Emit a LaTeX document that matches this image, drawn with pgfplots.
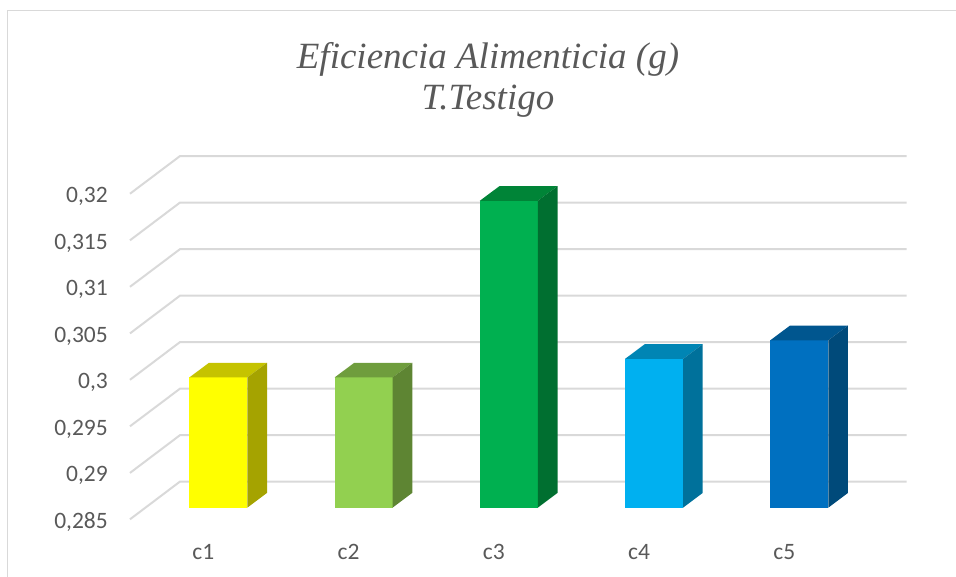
\documentclass[border=0pt]{standalone}
\usepackage{pgfplots}
\pgfplotsset{compat=1.18}
\usepackage{fontspec}
\setmainfont{Carlito}
\newfontfamily\titlefont{Liberation Serif}
\definecolor{gridc}{HTML}{D9D9D9}
\definecolor{labelc}{HTML}{595959}

% One box: x position, value, front, top and side colours.
\newcommand{\barbox}[5]{%
  \pgfmathsetmacro\xl{#1-0.1997}%
  \pgfmathsetmacro\xr{#1+0.1997}%
  \pgfmathsetmacro\xrb{#1+0.1997+0.1356}%
  \pgfmathsetmacro\xlb{#1-0.1997+0.1356}%
  \pgfmathsetmacro\vb{#2+0.00158}%
  \pgfmathsetmacro\fb{0.285+0.00158}%
  \edef\drawbox{%
    \noexpand\addplot[draw=none,fill=#3] coordinates {(\xl,0.285) (\xl,#2) (\xr,#2) (\xr,0.285)} --cycle;
    \noexpand\addplot[draw=none,fill=#4] coordinates {(\xl,#2) (\xlb,\vb) (\xrb,\vb) (\xr,#2)} --cycle;
    \noexpand\addplot[draw=none,fill=#5] coordinates {(\xr,0.285) (\xr,#2) (\xrb,\vb) (\xrb,\fb)} --cycle;
  }\drawbox}

% One gridline: the slanted piece on the floor side, then the back wall.
\newcommand{\gridline}[1]{%
  \pgfmathsetmacro\vf{#1-0.00125}%
  \pgfmathsetmacro\vk{#1+0.0028}%
  \edef\drawgrid{%
    \noexpand\addplot[draw=gridc,line width=2pt] coordinates {(-0.6081,\vf) (-0.2637,\vk) (4.739,\vk)};
  }\drawgrid}

\begin{document}
\begin{tikzpicture}[x=1pt,y=1pt]
\path[use as bounding box] (0,0) rectangle (956,577);
\draw[gridc,line width=1.5pt] (7.5,0) -- (7.5,566.5) -- (956,566.5);
\begin{axis}[
  at={(113pt,42pt)},anchor=south west,
  scale only axis,width=843pt,height=535pt,
  xmin=-0.7250,xmax=5.0790,
  ymin=0.282065,ymax=0.33959,
  clip=false,
  axis line style={draw=none},
  major tick length=0pt,
  xtick={-0.103,0.897,1.897,2.897,3.897},
  xticklabels={c1,c2,c3,c4,c5},
  ytick={0.28375,0.28875,0.29375,0.29875,0.30375,0.30875,0.31375,0.31875},
  yticklabels={{0,285},{0,29},{0,295},{0,3},{0,305},{0,31},{0,315},{0,32}},
  tick label style={font=\fontsize{23.5}{28}\selectfont,text=labelc},
  yticklabel style={inner sep=0pt,xshift=-5pt,yshift=-3pt},
  xticklabel style={inner sep=0pt,yshift=-9pt},
  title={Eficiencia Alimenticia (g)\\T.Testigo},
  title style={at={(axis description cs:0.4448,0.8385)},anchor=center,align=center,
    font=\titlefont\itshape\fontsize{37}{41}\selectfont,text=labelc},
]
\gridline{0.285}
\gridline{0.29}
\gridline{0.295}
\gridline{0.30}
\gridline{0.305}
\gridline{0.31}
\gridline{0.315}
\gridline{0.32}
\definecolor{c1f}{HTML}{FFFF00}\definecolor{c1t}{HTML}{C5C300}\definecolor{c1s}{HTML}{A5A300}
\definecolor{c2f}{HTML}{92D050}\definecolor{c2t}{HTML}{6F9D3D}\definecolor{c2s}{HTML}{5E8533}
\definecolor{c3f}{HTML}{00B050}\definecolor{c3t}{HTML}{008437}\definecolor{c3s}{HTML}{006F30}
\definecolor{c4f}{HTML}{00B0F0}\definecolor{c4t}{HTML}{0085B4}\definecolor{c4s}{HTML}{00719B}
\definecolor{c5f}{HTML}{0070C0}\definecolor{c5t}{HTML}{00568F}\definecolor{c5s}{HTML}{004A7A}
\barbox{0}{0.299}{c1f}{c1t}{c1s}
\barbox{1}{0.299}{c2f}{c2t}{c2s}
\barbox{2}{0.318}{c3f}{c3t}{c3s}
\barbox{3}{0.301}{c4f}{c4t}{c4s}
\barbox{4}{0.303}{c5f}{c5t}{c5s}
\end{axis}
\end{tikzpicture}
\end{document}
